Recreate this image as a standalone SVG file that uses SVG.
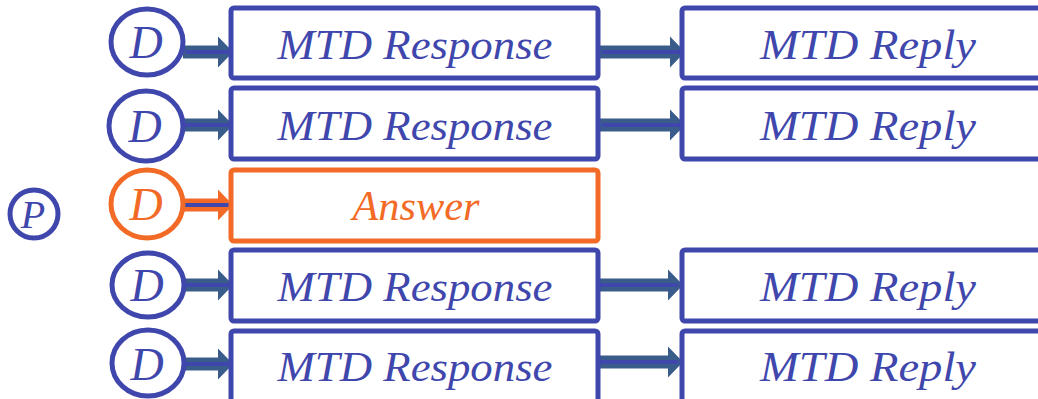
<svg xmlns="http://www.w3.org/2000/svg" width="1038" height="399" viewBox="0 0 1038 399">
<defs>
<style>
.box{fill:#fff;stroke:#3F47AD;stroke-width:5}
.obox{fill:#fff;stroke:#F26A26;stroke-width:5}
.ell{fill:#fff;stroke:#3F47AD;stroke-width:5}
.oell{fill:#fff;stroke:#F26A26;stroke-width:5}
.arr{fill:#3A5C8A}
.oarr{fill:#F26A26}
.in{stroke:#3F47AD;stroke-width:4}
text{font-family:"Liberation Serif",serif !important;font-style:italic !important}
</style>
<path id="a1" d="M0,-6.5 L35,-6.5 L35,-15.5 L50,0 L35,15.5 L35,6.5 L0,6.5 Z"/>
<path id="a2" d="M0,-6.5 L70,-6.5 L70,-15.5 L85,0 L70,15.5 L70,6.5 L0,6.5 Z"/>
</defs>
<g id="connectors">
<g transform="translate(183,52)"><use href="#a1" class="arr"/><line x1="2" y1="0" x2="46" y2="0" class="in"/></g>
<g transform="translate(183,125)"><use href="#a1" class="arr"/><line x1="2" y1="0" x2="46" y2="0" class="in"/></g>
<g transform="translate(183,205)"><use href="#a1" class="oarr"/><line x1="2" y1="0" x2="46" y2="0" class="in"/></g>
<g transform="translate(183,285)"><use href="#a1" class="arr"/><line x1="2" y1="0" x2="46" y2="0" class="in"/></g>
<g transform="translate(183,364)"><use href="#a1" class="arr"/><line x1="2" y1="0" x2="46" y2="0" class="in"/></g>
<g transform="translate(600,52)"><use href="#a2" class="arr"/><line x1="2" y1="0" x2="80" y2="0" class="in"/></g>
<g transform="translate(600,125)"><use href="#a2" class="arr"/><line x1="2" y1="0" x2="80" y2="0" class="in"/></g>
<g transform="translate(598,285)"><use href="#a2" class="arr"/><line x1="2" y1="0" x2="80" y2="0" class="in"/></g>
<g transform="translate(598,362)"><use href="#a2" class="arr"/><line x1="2" y1="0" x2="80" y2="0" class="in"/></g>
</g>
<g id="nodeP"><circle cx="34" cy="214" r="24" class="ell"/><text x="33" y="228" fill="#3F47AD" text-anchor="middle" font-family="Liberation Serif" font-style="italic" font-size="40" style="font-family:'Liberation Serif',serif;font-style:italic">P</text></g>
<g id="d1"><ellipse cx="147" cy="42" rx="36" ry="33" class="ell"/><text x="146" y="58" fill="#3F47AD" text-anchor="middle" font-family="Liberation Serif" font-style="italic" font-size="46" style="font-family:'Liberation Serif',serif;font-style:italic">D</text></g>
<g id="d2"><ellipse cx="146" cy="126" rx="37" ry="35" class="ell"/><text x="145" y="142" fill="#3F47AD" text-anchor="middle" font-family="Liberation Serif" font-style="italic" font-size="46" style="font-family:'Liberation Serif',serif;font-style:italic">D</text></g>
<g id="d3"><ellipse cx="147" cy="204" rx="36" ry="34" class="oell"/><text x="146" y="220" fill="#F26A26" text-anchor="middle" font-family="Liberation Serif" font-style="italic" font-size="46" style="font-family:'Liberation Serif',serif;font-style:italic">D</text></g>
<g id="d4"><ellipse cx="148" cy="285" rx="36" ry="32" class="ell"/><text x="147" y="301" fill="#3F47AD" text-anchor="middle" font-family="Liberation Serif" font-style="italic" font-size="46" style="font-family:'Liberation Serif',serif;font-style:italic">D</text></g>
<g id="d5"><ellipse cx="148" cy="363" rx="36" ry="33" class="ell"/><text x="147" y="380" fill="#3F47AD" text-anchor="middle" font-family="Liberation Serif" font-style="italic" font-size="46" style="font-family:'Liberation Serif',serif;font-style:italic">D</text></g>
<g id="resp1"><rect x="231" y="8" width="367" height="70" rx="3" class="box"/><text x="415" y="59" fill="#3F47AD" text-anchor="middle" font-family="Liberation Serif" font-style="italic" font-size="42" style="font-family:'Liberation Serif',serif;font-style:italic" textLength="275" lengthAdjust="spacingAndGlyphs">MTD Response</text></g>
<g id="resp2"><rect x="231" y="88" width="367" height="71" rx="3" class="box"/><text x="415" y="140" fill="#3F47AD" text-anchor="middle" font-family="Liberation Serif" font-style="italic" font-size="42" style="font-family:'Liberation Serif',serif;font-style:italic" textLength="275" lengthAdjust="spacingAndGlyphs">MTD Response</text></g>
<g id="answer"><rect x="231" y="170" width="367" height="71" rx="3" class="obox"/><text x="416" y="220" fill="#F26A26" text-anchor="middle" font-family="Liberation Serif" font-style="italic" font-size="42" style="font-family:'Liberation Serif',serif;font-style:italic" textLength="127" lengthAdjust="spacingAndGlyphs">Answer</text></g>
<g id="resp4"><rect x="231" y="250" width="367" height="71" rx="3" class="box"/><text x="415" y="301" fill="#3F47AD" text-anchor="middle" font-family="Liberation Serif" font-style="italic" font-size="42" style="font-family:'Liberation Serif',serif;font-style:italic" textLength="275" lengthAdjust="spacingAndGlyphs">MTD Response</text></g>
<g id="resp5"><rect x="231" y="331" width="367" height="72" rx="3" class="box"/><text x="415" y="381" fill="#3F47AD" text-anchor="middle" font-family="Liberation Serif" font-style="italic" font-size="42" style="font-family:'Liberation Serif',serif;font-style:italic" textLength="275" lengthAdjust="spacingAndGlyphs">MTD Response</text></g>
<g id="reply1"><rect x="682" y="8" width="372" height="70" rx="3" class="box"/><text x="868" y="59" fill="#3F47AD" text-anchor="middle" font-family="Liberation Serif" font-style="italic" font-size="42" style="font-family:'Liberation Serif',serif;font-style:italic" textLength="216" lengthAdjust="spacingAndGlyphs">MTD Reply</text></g>
<g id="reply2"><rect x="682" y="88" width="372" height="71" rx="3" class="box"/><text x="868" y="140" fill="#3F47AD" text-anchor="middle" font-family="Liberation Serif" font-style="italic" font-size="42" style="font-family:'Liberation Serif',serif;font-style:italic" textLength="216" lengthAdjust="spacingAndGlyphs">MTD Reply</text></g>
<g id="reply4"><rect x="682" y="250" width="372" height="71" rx="3" class="box"/><text x="868" y="301" fill="#3F47AD" text-anchor="middle" font-family="Liberation Serif" font-style="italic" font-size="42" style="font-family:'Liberation Serif',serif;font-style:italic" textLength="216" lengthAdjust="spacingAndGlyphs">MTD Reply</text></g>
<g id="reply5"><rect x="682" y="331" width="372" height="72" rx="3" class="box"/><text x="868" y="381" fill="#3F47AD" text-anchor="middle" font-family="Liberation Serif" font-style="italic" font-size="42" style="font-family:'Liberation Serif',serif;font-style:italic" textLength="216" lengthAdjust="spacingAndGlyphs">MTD Reply</text></g>
</svg>
